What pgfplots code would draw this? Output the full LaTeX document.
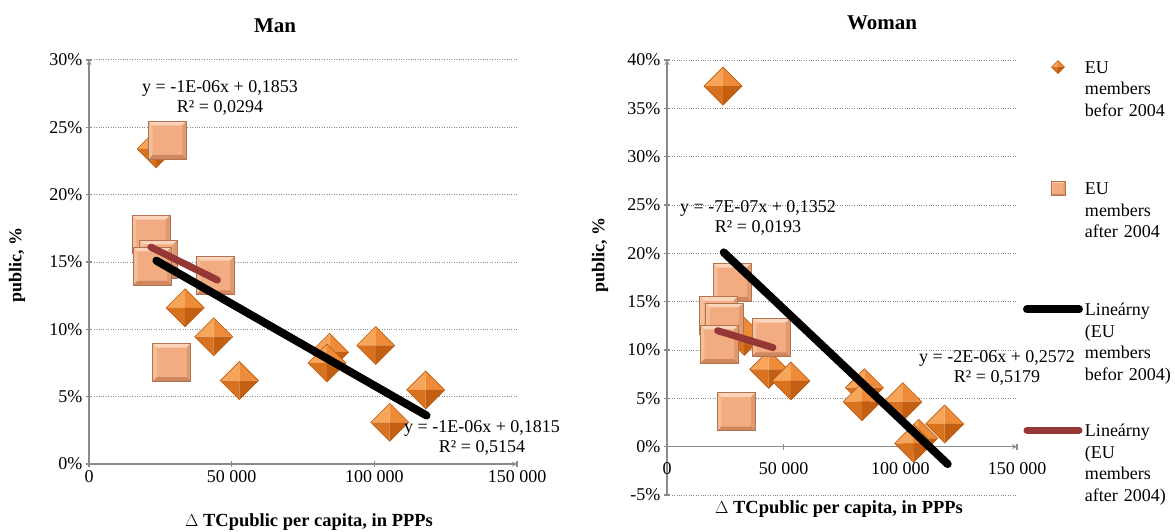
\documentclass[border=0pt]{standalone}
\usepackage{pgfplots}
\pgfplotsset{compat=1.18}
\usepackage{fontspec}
\setmainfont{Liberation Serif}
\definecolor{dia1}{HTML}{F7A55A}
\definecolor{dia2}{HTML}{EE8B38}
\definecolor{dia3}{HTML}{D8721F}
\definecolor{dia4}{HTML}{C35F12}
\definecolor{diaedge}{HTML}{B85A10}
\definecolor{sqedge}{HTML}{B0734F}
\definecolor{sqtop}{HTML}{FAD5BB}
\definecolor{sqleft}{HTML}{F4BE9A}
\definecolor{sqright}{HTML}{E19A70}
\definecolor{sqbot}{HTML}{D08760}
\definecolor{sqface}{HTML}{F3AC82}
\definecolor{trendred}{HTML}{953735}
\definecolor{axisgray}{HTML}{8A8A8A}

\pgfdeclareplotmark{bdia}{%
  \begin{pgfscope}\pgfpathmoveto{\pgfpointorigin}\pgfpathlineto{\pgfqpoint{0pt}{\pgfplotmarksize}}\pgfpathlineto{\pgfqpoint{-\pgfplotmarksize}{0pt}}\pgfpathclose\pgfsetfillcolor{dia1}\pgfusepath{fill}\end{pgfscope}%
  \begin{pgfscope}\pgfpathmoveto{\pgfpointorigin}\pgfpathlineto{\pgfqpoint{0pt}{\pgfplotmarksize}}\pgfpathlineto{\pgfqpoint{\pgfplotmarksize}{0pt}}\pgfpathclose\pgfsetfillcolor{dia2}\pgfusepath{fill}\end{pgfscope}%
  \begin{pgfscope}\pgfpathmoveto{\pgfpointorigin}\pgfpathlineto{\pgfqpoint{0pt}{-\pgfplotmarksize}}\pgfpathlineto{\pgfqpoint{-\pgfplotmarksize}{0pt}}\pgfpathclose\pgfsetfillcolor{dia3}\pgfusepath{fill}\end{pgfscope}%
  \begin{pgfscope}\pgfpathmoveto{\pgfpointorigin}\pgfpathlineto{\pgfqpoint{0pt}{-\pgfplotmarksize}}\pgfpathlineto{\pgfqpoint{\pgfplotmarksize}{0pt}}\pgfpathclose\pgfsetfillcolor{dia4}\pgfusepath{fill}\end{pgfscope}%
  \begin{pgfscope}\pgfpathmoveto{\pgfqpoint{0pt}{\pgfplotmarksize}}\pgfpathlineto{\pgfqpoint{\pgfplotmarksize}{0pt}}\pgfpathlineto{\pgfqpoint{0pt}{-\pgfplotmarksize}}\pgfpathlineto{\pgfqpoint{-\pgfplotmarksize}{0pt}}\pgfpathclose\pgfsetstrokecolor{diaedge}\pgfsetlinewidth{0.6pt}\pgfusepath{stroke}\end{pgfscope}%
}
\pgfdeclareplotmark{bsq}{%
  \begin{pgfscope}\pgfpathrectangle{\pgfqpoint{-\pgfplotmarksize}{-\pgfplotmarksize}}{\pgfqpoint{2\pgfplotmarksize}{2\pgfplotmarksize}}\pgfsetfillcolor{sqface}\pgfusepath{fill}\end{pgfscope}%
  \begin{pgfscope}\pgfpathmoveto{\pgfqpoint{-\pgfplotmarksize}{\pgfplotmarksize}}\pgfpathlineto{\pgfqpoint{\pgfplotmarksize}{\pgfplotmarksize}}\pgfpathlineto{\pgfqpoint{0.78\pgfplotmarksize}{0.78\pgfplotmarksize}}\pgfpathlineto{\pgfqpoint{-0.78\pgfplotmarksize}{0.78\pgfplotmarksize}}\pgfpathclose\pgfsetfillcolor{sqtop}\pgfusepath{fill}\end{pgfscope}%
  \begin{pgfscope}\pgfpathmoveto{\pgfqpoint{-\pgfplotmarksize}{\pgfplotmarksize}}\pgfpathlineto{\pgfqpoint{-0.78\pgfplotmarksize}{0.78\pgfplotmarksize}}\pgfpathlineto{\pgfqpoint{-0.78\pgfplotmarksize}{-0.78\pgfplotmarksize}}\pgfpathlineto{\pgfqpoint{-\pgfplotmarksize}{-\pgfplotmarksize}}\pgfpathclose\pgfsetfillcolor{sqleft}\pgfusepath{fill}\end{pgfscope}%
  \begin{pgfscope}\pgfpathmoveto{\pgfqpoint{\pgfplotmarksize}{\pgfplotmarksize}}\pgfpathlineto{\pgfqpoint{\pgfplotmarksize}{-\pgfplotmarksize}}\pgfpathlineto{\pgfqpoint{0.78\pgfplotmarksize}{-0.78\pgfplotmarksize}}\pgfpathlineto{\pgfqpoint{0.78\pgfplotmarksize}{0.78\pgfplotmarksize}}\pgfpathclose\pgfsetfillcolor{sqright}\pgfusepath{fill}\end{pgfscope}%
  \begin{pgfscope}\pgfpathmoveto{\pgfqpoint{-\pgfplotmarksize}{-\pgfplotmarksize}}\pgfpathlineto{\pgfqpoint{-0.78\pgfplotmarksize}{-0.78\pgfplotmarksize}}\pgfpathlineto{\pgfqpoint{0.78\pgfplotmarksize}{-0.78\pgfplotmarksize}}\pgfpathlineto{\pgfqpoint{\pgfplotmarksize}{-\pgfplotmarksize}}\pgfpathclose\pgfsetfillcolor{sqbot}\pgfusepath{fill}\end{pgfscope}%
  \begin{pgfscope}\pgfpathrectangle{\pgfqpoint{-\pgfplotmarksize}{-\pgfplotmarksize}}{\pgfqpoint{2\pgfplotmarksize}{2\pgfplotmarksize}}\pgfsetstrokecolor{sqedge}\pgfsetlinewidth{0.8pt}\pgfusepath{stroke}\end{pgfscope}%
}

\pgfplotsset{
  myaxis/.style={
    scale only axis,
    xmin=0, xmax=150000,
    axis line style={axisgray, line width=1.2pt, -},
    every inner x axis line/.append style={-},
    every outer x axis line/.append style={-},
    every outer y axis line/.append style={-},
    tick style={axisgray, line width=1.2pt},
    tick align=outside,
    major tick length=6pt,
    ymajorgrids,
    major grid style={axisgray, dotted, line width=1pt},
    tick label style={font=\fontsize{18}{20}\selectfont, text=black},
    xtick={0,50000,100000,150000},
    xticklabels={0,50 000,100 000,150 000},
    scaled x ticks=false,
    clip=false,
    clip marker paths=true,
  },
  diaplot/.style={only marks, mark=bdia, mark size=19pt},
  sqplot/.style={only marks, mark=bsq, mark size=19pt},
}

\begin{document}
\begin{tikzpicture}
\useasboundingbox (0,0) rectangle (1175pt,531pt);

% ---------------- Man ----------------
\begin{axis}[myaxis,
  at={(89pt,67pt)}, anchor=south west,
  width=428pt, height=404pt,
  ymin=0, ymax=30,
  axis x line=bottom, axis y line=left,
  ytick={0,5,10,15,20,25,30},
  yticklabels={0\%,5\%,10\%,15\%,20\%,25\%,30\%},
]
\addplot[diaplot] coordinates {
 (23500,23.4) (33700,11.6) (43700,9.45) (52700,6.2) (84300,8.3)
 (83400,7.5) (100500,8.8) (118000,5.5) (105400,3.1)};
\addplot[sqplot] coordinates {
 (27500,24.05) (21700,17.05) (24300,15.2) (22200,14.7) (44300,14.0) (29000,7.55)};
\addplot[black, line width=8pt, line cap=round] coordinates {(23600,15.1) (118300,3.6)};
\addplot[trendred, line width=7pt, line cap=round] coordinates {(21700,16.1) (45000,13.66)};
\end{axis}

% ---------------- Woman ----------------
\begin{axis}[myaxis,
  at={(667pt,36pt)}, anchor=south west,
  width=350pt, height=435pt,
  ymin=-5, ymax=40,
  axis x line=middle, axis y line=left,
  hide obscured x ticks=false,
  xticklabel style={yshift=-9pt},
  ytick={-5,0,5,10,15,20,25,30,35,40},
  yticklabels={-5\%,0\%,5\%,10\%,15\%,20\%,25\%,30\%,35\%,40\%},
  legend style={at={(axis description cs:1.0171,1.0)}, anchor=north west,
    draw=none, fill=none, inner sep=0pt, outer sep=0pt,
    row sep=0pt, column sep=2pt,
    nodes={inner sep=0pt, font=\fontsize{18}{21.6}\selectfont, text height=13pt, text depth=108pt, align=left, text width=95pt},
    cells={anchor=base west}},
]
\addplot[diaplot, legend image code/.code={\begin{scope}[shift={(35pt,6pt)}]\pgfsetplotmarksize{6.5pt}\pgfuseplotmark{bdia}\end{scope}}] coordinates {
 (24000,37.3) (33100,11.4) (43600,8.0) (53100,6.8) (84600,6.1)
 (83600,4.65) (101100,4.65) (119000,2.35) (107900,0.87) (105700,0.35)};
\addlegendentry{EU\\members\\befor 2004}
\addplot[sqplot, legend image code/.code={\begin{scope}[shift={(35pt,6pt)}]\pgfsetplotmarksize{7pt}\pgfuseplotmark{bsq}\end{scope}}] coordinates {
 (27900,17.0) (22100,13.55) (24600,12.9) (22400,10.6) (44600,11.3) (29700,3.6)};
\addlegendentry{EU\\members\\after 2004}
\addplot[black, line width=8pt, line cap=round, legend image code/.code={\draw[black, line width=8pt, line cap=round] (4pt,6pt) -- (56pt,6pt);}] coordinates {(24300,20.1) (120300,-1.8)};
\addlegendentry{Lineárny\\(EU\\members\\befor 2004)}
\addplot[trendred, line width=7pt, line cap=round, legend image code/.code={\draw[trendred, line width=7pt, line cap=round] (4pt,6pt) -- (56pt,6pt);}] coordinates {(21700,12.0) (45400,10.25)};
\addlegendentry{Lineárny\\(EU\\members\\after 2004)}
\end{axis}

% ---------------- texts ----------------
\node[anchor=base, font=\fontsize{21}{24}\selectfont\bfseries] at (275pt,498pt) {Man};
\node[anchor=base, font=\fontsize{21}{24}\selectfont\bfseries] at (882pt,501pt) {Woman};
\node[rotate=90, font=\fontsize{18}{20}\selectfont\bfseries] at (17pt,266pt) {public, \%};
\node[rotate=90, font=\fontsize{18}{20}\selectfont\bfseries] at (600pt,276pt) {public, \%};
\node[anchor=base, font=\fontsize{18.5}{20}\selectfont\bfseries] at (309pt,5pt) {$\Delta$ TCpublic per capita, in PPPs};
\node[anchor=base, font=\fontsize{18.5}{20}\selectfont\bfseries] at (839pt,18pt) {$\Delta$ TCpublic per capita, in PPPs};
\node[align=center, font=\fontsize{18}{20}\selectfont] at (220pt,433pt) {y = -1E-06x + 0,1853\\R² = 0,0294};
\node[align=center, font=\fontsize{18}{20}\selectfont] at (482pt,93pt) {y = -1E-06x + 0,1815\\R² = 0,5154};
\node[align=center, font=\fontsize{18}{20}\selectfont] at (758pt,313pt) {y = -7E-07x + 0,1352\\R² = 0,0193};
\node[align=center, font=\fontsize{18}{20}\selectfont] at (997pt,163pt) {y = -2E-06x + 0,2572\\R² = 0,5179};
\end{tikzpicture}
\end{document}
